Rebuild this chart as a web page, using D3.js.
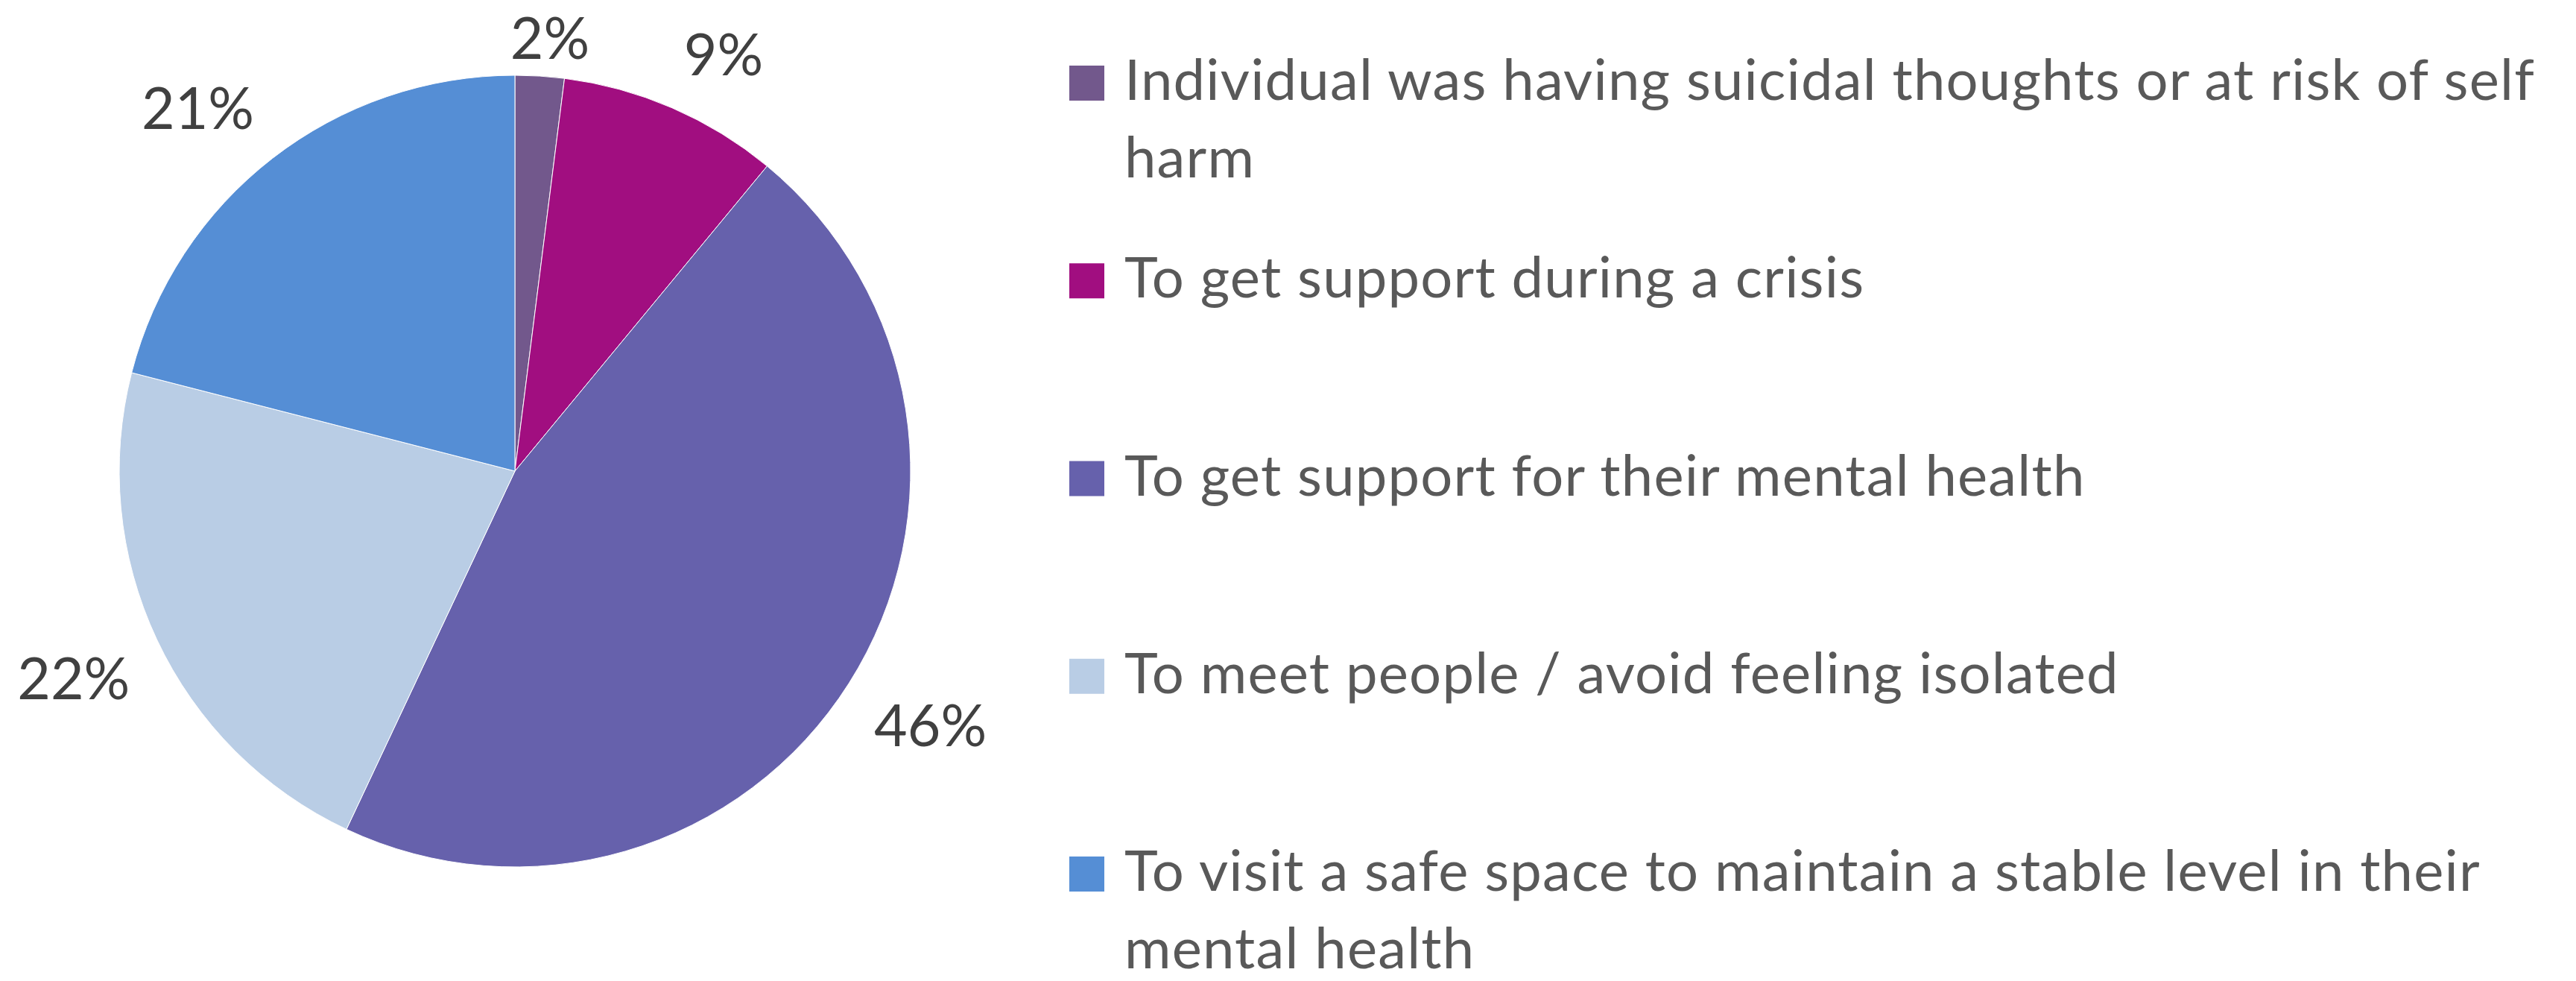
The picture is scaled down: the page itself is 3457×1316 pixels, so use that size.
<!DOCTYPE html>
<html>
<head>
<meta charset="utf-8">
<script src="https://cdn.jsdelivr.net/npm/d3@7"></script>
<style>
  html, body { margin: 0; padding: 0; background: #fff; overflow: hidden; }
</style>
</head>
<body>
<svg id="chart" width="3457" height="1316"></svg>
<script>
// Reasons for visiting, share of responses (%)
const categories = [
  "Individual was having suicidal thoughts or at risk of self harm",
  "To get support during a crisis",
  "To get support for their mental health",
  "To meet people / avoid feeling isolated",
  "To visit a safe space to maintain a stable level in their mental health"
];
const shares = [2, 9, 46, 22, 21];
const palette = ["#72588C", "#A10E80", "#6661AC", "#B9CDE5", "#558ED5"];

const W = 3457, H = 1316;
const svg = d3.select("#chart").attr("viewBox", `0 0 ${W} ${H}`);

// ---- pie ----
const cx = 691, cy = 632, radius = 531;
const color = d3.scaleOrdinal().domain(categories).range(palette);
const pie = d3.pie().sort(null).value(d => d.value);
const arcs = pie(categories.map((name, i) => ({ name, value: shares[i] })));
const arc = d3.arc().innerRadius(0).outerRadius(radius);

const pieG = svg.append("g").attr("transform", `translate(${cx},${cy})`);
pieG.selectAll("path.slice")
  .data(arcs)
  .join("path")
  .attr("class", "slice")
  .attr("d", arc)
  .attr("fill", d => color(d.data.name))
  .attr("stroke", "#ffffff")
  .attr("stroke-width", 1);

// ---- percentage labels, placed just outside each slice ----
const fontStack = "Lato, 'Open Sans', 'Noto Sans', sans-serif";
const labelSize = 77;
const digitHalf = labelSize * 0.7165 / 2;
const gap = 40, padY = 35, topLimit = 24;
const ease = v => Math.max(-1, Math.min(1, v / 0.3));

pieG.selectAll("text.pct")
  .data(arcs)
  .join("text")
  .attr("class", "pct")
  .attr("font-family", fontStack)
  .attr("font-size", labelSize)
  .attr("fill", "#404040")
  .attr("text-anchor", "middle")
  .text(d => d.data.value + "%")
  .each(function (d) {
    const w = this.getComputedTextLength();
    const a = (d.startAngle + d.endAngle) / 2;
    const ux = Math.sin(a), uy = -Math.cos(a);
    const px = ux * (radius + gap), py = uy * (radius + gap);
    const x = px + ease(ux) * (w / 2);
    let yc = py + ease(uy) * padY;
    // keep the label inside the top edge of the chart
    yc = Math.max(yc, -cy + topLimit + digitHalf);
    d3.select(this).attr("x", x).attr("y", yc + digitHalf);
  });

// ---- legend ----
const legendX = 1435, textX = 1509, swatch = 47, lineH = 104;
const legendSize = 76;
const maxTextW = W - textX - 8;
const rowY = d3.scaleLinear().domain([0, categories.length - 1]).range([134, 1195]);

const legend = svg.append("g").attr("class", "legend");
const rows = legend.selectAll("g.row")
  .data(categories)
  .join("g")
  .attr("class", "row")
  .attr("transform", (d, i) => `translate(0,${rowY(i)})`);

rows.append("rect")
  .attr("x", legendX)
  .attr("y", -swatch + 1)
  .attr("width", swatch)
  .attr("height", swatch)
  .attr("fill", d => color(d));

rows.append("text")
  .attr("font-family", fontStack)
  .attr("font-size", legendSize)
  .attr("letter-spacing", 1.2)
  .attr("fill", "#595959")
  .each(function (d) {
    // word-wrap the entry into lines that fit the space to the right
    const text = d3.select(this);
    const words = d.split(" ");
    let line = [];
    let lineNo = 0;
    let tspan = text.append("tspan").attr("x", textX).attr("y", 0);
    for (const word of words) {
      line.push(word);
      tspan.text(line.join(" "));
      if (tspan.node().getComputedTextLength() > maxTextW && line.length > 1) {
        line.pop();
        tspan.text(line.join(" "));
        line = [word];
        lineNo += 1;
        tspan = text.append("tspan").attr("x", textX).attr("y", lineNo * lineH).text(word);
      }
    }
  });
</script>
</body>
</html>
